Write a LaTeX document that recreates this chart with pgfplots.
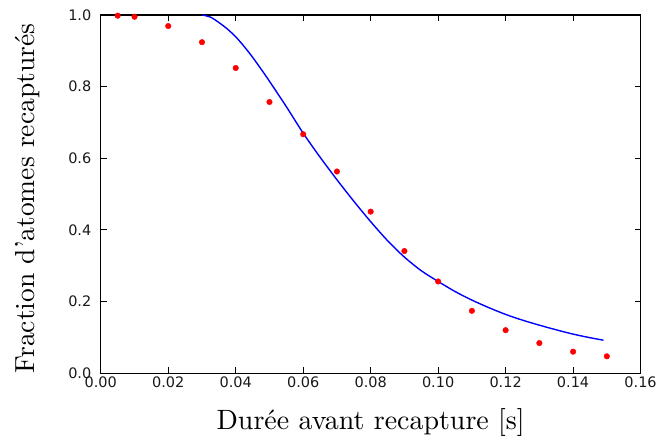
\documentclass[border=0pt]{standalone}
\usepackage{pgfplots}
\pgfplotsset{compat=1.18}
\usepackage{fontspec}
\newfontfamily\dejavu{DejaVu Sans}
\newfontfamily\lmten{lmroman10-regular.otf}[Ligatures=TeX]
\begin{document}
\begin{tikzpicture}
\begin{axis}[
  scale only axis, width=541pt, height=359pt,
  xmin=0, xmax=0.16, ymin=0, ymax=1.0,
  xtick={0,0.02,0.04,0.06,0.08,0.10,0.12,0.14,0.16},
  xticklabels={0.00,0.02,0.04,0.06,0.08,0.10,0.12,0.14,0.16},
  ytick={0,0.2,0.4,0.6,0.8,1.0},
  yticklabels={0.0,0.2,0.4,0.6,0.8,1.0},
  tick align=inside, tick pos=both,
  major tick length=6pt,
  tick style={black, line width=0.8pt},
  axis line style={line width=1.2pt},
  /pgf/number format/assume math mode=true,
  ticklabel style={font=\dejavu\fontsize{14.5}{17}\selectfont, text=black!90},
  yticklabel style={xshift=-6pt},
  xlabel={Durée avant recapture [s]},
  ylabel={Fraction d’atomes recapturés},
  every axis x label/.style={at={(axis description cs:0.5,-0.156)}, anchor=base, font=\lmten\fontsize{28}{32}\selectfont},
  every axis y label/.style={at={(axis description cs:-0.122,0.4875)}, rotate=90, anchor=base, font=\lmten\fontsize{27.6}{32}\selectfont},
  clip=true,
]
\addplot[blue, line width=1.4pt, smooth, tension=0.5] coordinates {
(0.0300,1.000) (0.0325,0.994) (0.0350,0.979) (0.0375,0.961) (0.0400,0.939)
(0.0425,0.912) (0.0450,0.882) (0.0475,0.849) (0.0500,0.815) (0.0550,0.744)
(0.0600,0.670) (0.0650,0.603) (0.0700,0.540) (0.0750,0.480) (0.0800,0.423)
(0.0850,0.370) (0.0900,0.324) (0.0950,0.286) (0.1000,0.256) (0.1050,0.228)
(0.1100,0.204) (0.1150,0.183) (0.1200,0.164) (0.1250,0.148) (0.1300,0.134)
(0.1350,0.121) (0.1400,0.109) (0.1450,0.099) (0.1490,0.092)
};
\addplot[only marks, mark=*, mark size=2.8pt, red, mark options={draw=red, fill=red}] coordinates {
(0.005,0.998) (0.01,0.995) (0.02,0.969) (0.03,0.924) (0.04,0.852)
(0.05,0.757) (0.06,0.667) (0.07,0.563) (0.08,0.451) (0.09,0.341)
(0.10,0.256) (0.11,0.174) (0.12,0.120) (0.13,0.084) (0.14,0.060)
(0.15,0.047)
};
\end{axis}
\path (current axis.south west) ++(-101pt,-67pt) rectangle ([shift={(18pt,15pt)}]current axis.north east);
\end{tikzpicture}
\end{document}
